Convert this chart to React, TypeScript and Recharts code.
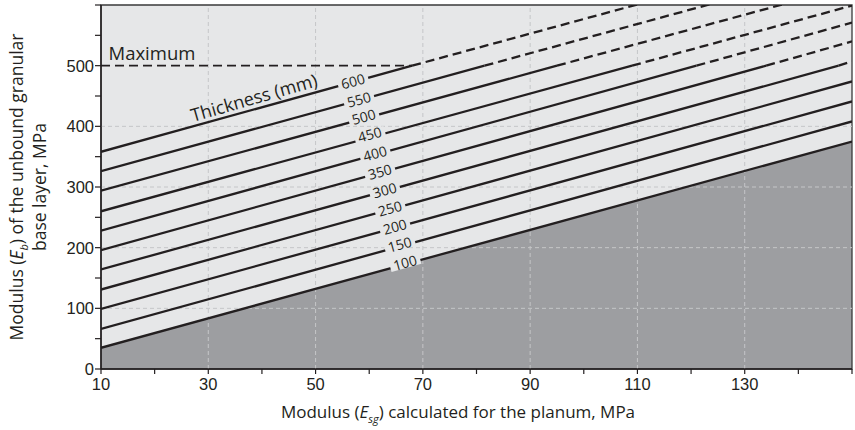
import React from "react";
import {
  ComposedChart,
  Line,
  Area,
  XAxis,
  YAxis,
  CartesianGrid,
  ReferenceDot,
  ReferenceArea,
  ReferenceLine,
} from "recharts";

// values (Esg on x, Eb on y, both MPa)
const ESG_MIN = 10;
const ESG_MAX = 150;
const EB_MAX_LIMIT = 500;

const X_TICKS = [10, 20, 30, 40, 50, 60, 70, 80, 90, 100, 110, 120, 130, 140, 150];
const X_LABELED = [10, 30, 50, 70, 90, 110, 130];
const X_GRID = [30, 50, 70, 90, 110, 130];
const Y_TICKS = [0, 50, 100, 150, 200, 250, 300, 350, 400, 450, 500, 550, 600];
const Y_LABELED = [0, 100, 200, 300, 400, 500];
const Y_GRID = [100, 200, 300, 400];

const THICKNESS = [100, 150, 200, 250, 300, 350, 400, 450, 500, 550, 600];
const EB_AT_ESG_MIN = [35, 66, 99, 131, 164, 196, 228, 260, 294, 326, 358];
// right edge; the top three run past the frame and get clipped
const EB_AT_ESG_MAX = [375, 408, 441, 474, 507, 540, 571, 599, 632, 665, 697];
// Esg where a line hits the 500 MPa maximum and turns dashed
const REACHES_MAX_AT = [null, null, null, null, 147.5, 134, 121, 109, 95, 81.5, 68];
// where the thickness tags sit on each line
const TAG_ESG = [66.7, 65.7, 64.8, 63.9, 62.9, 62, 61.1, 60.1, 59, 58.1, 57];
const TAG_EB = [174.6, 204.7, 233.9, 264, 294, 324.4, 354.6, 385.9, 415, 443.5, 473.6];

const INK = "#231f20";
const PLOT_BG = "#e6e7e8";
const BELOW_BG = "#9d9ea1";
const GRID = "#c5c6c8";
const FONT = "'Open Sans', 'Noto Sans', sans-serif";
const TICK_FONT = "'Liberation Sans', Arial, sans-serif";
const SLOPE_DEG = 15.5;

function XTick({ x, y, payload }: any) {
  if (!X_LABELED.includes(payload.value)) return <g />;
  return (
    <text x={x} y={y + 14} textAnchor="middle" fontSize={16.5} fontFamily={TICK_FONT} fill={INK}>
      {payload.value}
    </text>
  );
}

function YTick({ x, y, payload }: any) {
  if (!Y_LABELED.includes(payload.value)) return <g />;
  return (
    <text x={x + 1} y={y + 6} textAnchor="end" fontSize={16.5} fontFamily={TICK_FONT} fill={INK}>
      {payload.value}
    </text>
  );
}

function ThicknessTag({ cx, cy, text }: any) {
  return (
    <g transform={`translate(${cx},${cy}) rotate(${-SLOPE_DEG})`}>
      <rect x={-15.5} y={-5} width={31} height={10} fill={PLOT_BG} />
      <text x={0} y={4.8} textAnchor="middle" fontSize={14} fontFamily={FONT} fill={INK}>
        {text}
      </text>
    </g>
  );
}

function FreeText({ cx, cy, text, angle, size }: any) {
  return (
    <text
      x={cx}
      y={cy}
      transform={angle ? `rotate(${-angle},${cx},${cy})` : undefined}
      textAnchor="middle"
      dominantBaseline="central"
      fontSize={size}
      fontFamily={FONT}
      fill={INK}
    >
      {text}
    </text>
  );
}

function XTitle() {
  return (
    <text x={458} y={418} textAnchor="middle" fontSize={17} fontFamily={FONT} fill={INK}>
      Modulus (<tspan fontStyle="italic">E</tspan>
      <tspan fontSize={11} fontStyle="italic" dy={5}>sg</tspan>
      <tspan dy={-5}>) calculated for the planum, MPa</tspan>
    </text>
  );
}

function YTitle({ viewBox }: any) {
  const cy = viewBox.y + viewBox.height / 2;
  return (
    <g fontSize={17.5} fontFamily={FONT} fill={INK}>
      <text x={23} y={cy} textAnchor="middle" transform={`rotate(-90,23,${cy})`}>
        Modulus (<tspan fontStyle="italic">E</tspan>
        <tspan fontSize={11} fontStyle="italic" dy={5}>b</tspan>
        <tspan dy={-5}>) of the unbound granular</tspan>
      </text>
      <text x={46} y={cy} textAnchor="middle" transform={`rotate(-90,46,${cy})`}>
        base layer, MPa
      </text>
    </g>
  );
}

export default function App() {
  const belowData = [
    { x: ESG_MIN, y: EB_AT_ESG_MIN[0] },
    { x: ESG_MAX, y: EB_AT_ESG_MAX[0] },
  ];
  const maxLine = [
    { x: ESG_MIN, y: EB_MAX_LIMIT },
    { x: REACHES_MAX_AT[REACHES_MAX_AT.length - 1] as number, y: EB_MAX_LIMIT },
  ];

  const lines = THICKNESS.map((t, i) => {
    const cut = REACHES_MAX_AT[i];
    const solid = cut == null
      ? [{ x: ESG_MIN, y: EB_AT_ESG_MIN[i] }, { x: ESG_MAX, y: EB_AT_ESG_MAX[i] }]
      : [{ x: ESG_MIN, y: EB_AT_ESG_MIN[i] }, { x: cut, y: EB_MAX_LIMIT }];
    const dashed = cut == null ? null : [{ x: cut, y: EB_MAX_LIMIT }, { x: ESG_MAX, y: EB_AT_ESG_MAX[i] }];
    return { t, solid, dashed };
  });

  return (
    <div style={{ position: "absolute", left: 0, top: 0 }}>
      <ComposedChart width={855} height={430} margin={{ top: 5, right: 3, bottom: 31, left: 56 }}>
        <CartesianGrid fill={PLOT_BG} horizontal={false} vertical={false} />
        <XAxis
          type="number"
          dataKey="x"
          domain={[ESG_MIN, ESG_MAX]}
          ticks={X_TICKS}
          allowDataOverflow
          height={30}
          tickSize={5}
          tick={<XTick />}
          axisLine={{ stroke: INK, strokeWidth: 1.5 }}
          tickLine={{ stroke: INK, strokeWidth: 1.2 }}
          label={<XTitle />}
        />
        <YAxis
          type="number"
          dataKey="y"
          domain={[0, 600]}
          ticks={Y_TICKS}
          allowDataOverflow
          width={45}
          tickSize={6}
          tick={<YTick />}
          axisLine={{ stroke: INK, strokeWidth: 1.5 }}
          tickLine={{ stroke: INK, strokeWidth: 1.2 }}
          label={<YTitle />}
        />
        <Area
          data={belowData}
          dataKey="y"
          type="linear"
          stroke="none"
          fill={BELOW_BG}
          fillOpacity={1}
          isAnimationActive={false}
        />
        {X_GRID.map((v) => (
          <ReferenceLine key={`gx${v}`} x={v} stroke={GRID} strokeDasharray="4 3" />
        ))}
        {Y_GRID.map((v) => (
          <ReferenceLine key={`gy${v}`} y={v} stroke={GRID} strokeDasharray="4 3" />
        ))}
        <Line
          data={maxLine}
          dataKey="y"
          type="linear"
          stroke={INK}
          strokeWidth={1.8}
          strokeDasharray="9 5"
          dot={false}
          isAnimationActive={false}
        />
        {lines.map((l) => (
          <Line
            key={`s${l.t}`}
            data={l.solid}
            dataKey="y"
            type="linear"
            stroke={INK}
            strokeWidth={2.3}
            dot={false}
            isAnimationActive={false}
          />
        ))}
        {lines.map((l) =>
          l.dashed ? (
            <Line
              key={`d${l.t}`}
              data={l.dashed}
              dataKey="y"
              type="linear"
              stroke={INK}
              strokeWidth={2.3}
              strokeDasharray="9 5"
              dot={false}
              isAnimationActive={false}
            />
          ) : null,
        )}
        {THICKNESS.map((t, i) => (
          <ReferenceDot
            key={`tag${t}`}
            x={TAG_ESG[i]}
            y={TAG_EB[i]}
            r={0}
            shape={(p: any) => <ThicknessTag cx={p.cx} cy={p.cy} text={String(t)} />}
          />
        ))}
        <ReferenceDot
          x={19.5}
          y={522}
          r={0}
          shape={(p: any) => <FreeText cx={p.cx} cy={p.cy} text="Maximum" size={18.5} />}
        />
        <ReferenceDot
          x={38.5}
          y={448}
          r={0}
          shape={(p: any) => <FreeText cx={p.cx} cy={p.cy} text="Thickness (mm)" angle={16} size={18} />}
        />
        <ReferenceArea
          x1={ESG_MIN}
          x2={ESG_MAX}
          y1={0}
          y2={600}
          fill="none"
          stroke="#3a3a3a"
          strokeWidth={1.3}
        />
      </ComposedChart>
    </div>
  );
}
